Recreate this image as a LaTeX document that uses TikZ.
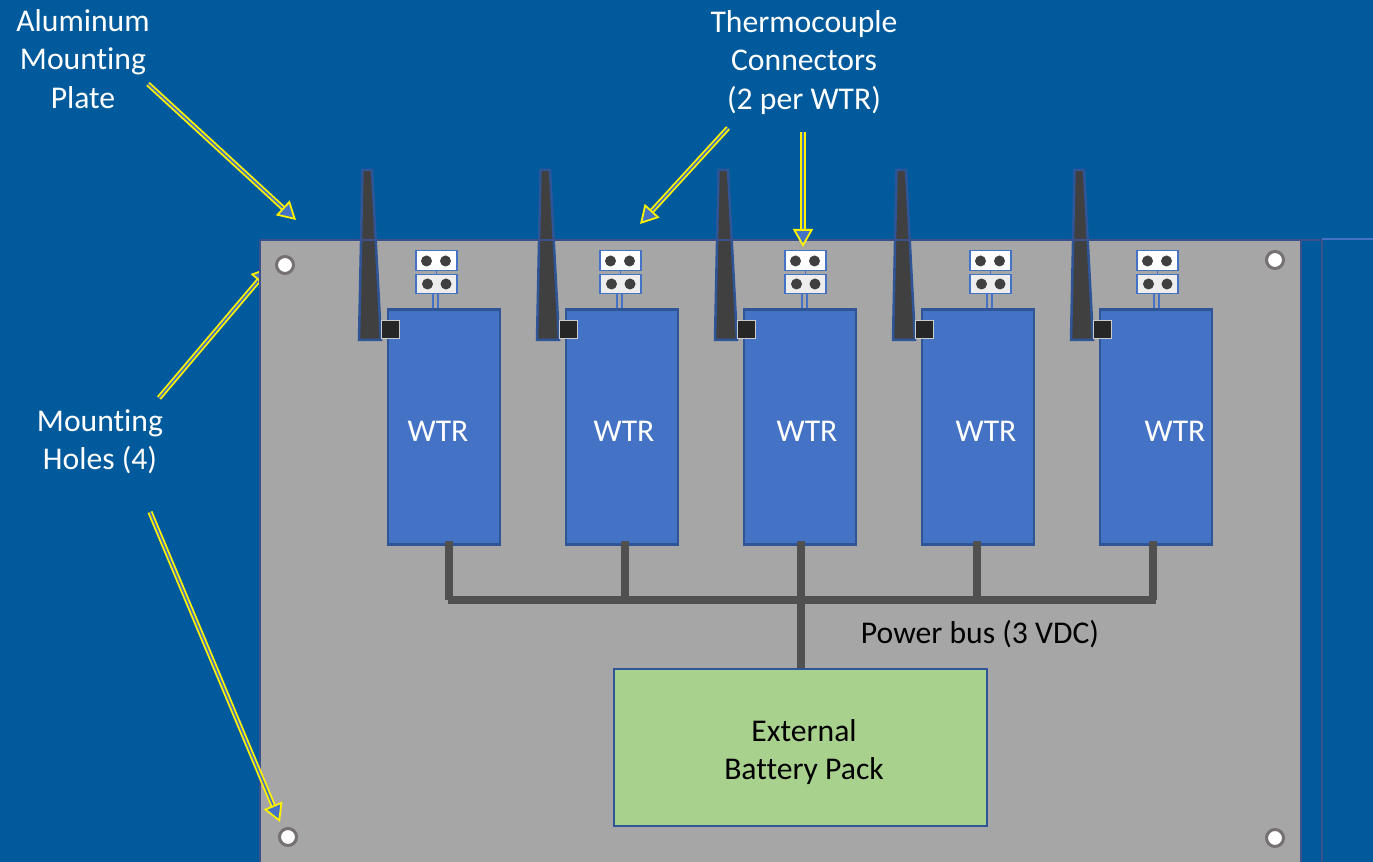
\documentclass[tikz,border=0pt]{standalone}
\usepackage{fontspec}
\setmainfont[Ligatures=NoCommon]{Carlito}
\usetikzlibrary{arrows.meta}
\definecolor{slideblue}{RGB}{0,90,156}
\definecolor{plategray}{RGB}{166,166,166}
\definecolor{edgeblue}{RGB}{47,85,151}
\definecolor{edgeplate}{RGB}{60,80,140}
\definecolor{wtrblue}{RGB}{68,114,196}
\definecolor{packgreen}{RGB}{169,209,142}
\definecolor{busgray}{RGB}{80,80,80}
\definecolor{antgray}{RGB}{64,64,64}
\definecolor{holegray}{RGB}{118,113,113}
\tikzset{
 every node/.style={font=\fontsize{9}{10.85}\selectfont, inner sep=0pt},
 wlabel/.style={text=white, align=center},
 blabel/.style={text=black, align=center},
 wtrbox/.style={rectangle, draw=edgeblue, line width=.025cm, fill=wtrblue, minimum width=1.115cm, minimum height=2.35cm},
 packbox/.style={rectangle, draw=edgeblue, line width=.02cm, fill=packgreen, minimum width=3.72cm, minimum height=1.56cm},
 hole/.style={circle, draw=holegray, line width=.03cm, fill=white, minimum size=.17cm},
 antbody/.style={draw=edgeblue, line width=.025cm, fill=antgray},
 squarenode/.style={rectangle, draw=white!80!black, line width=.01cm, fill=black!85, minimum size=.18cm},
 tctop/.style={rectangle, draw=wtrblue, line width=.012cm, fill=white, minimum width=.41cm, minimum height=.195cm},
 tcbot/.style={rectangle, draw=wtrblue, line width=.012cm, fill=black!7, minimum width=.41cm, minimum height=.195cm},
 tcdot/.style={circle, fill=antgray, minimum size=.11cm},
 tcwire/.style={draw=wtrblue, line width=.012cm},
 busline/.style={draw=busgray, line width=.08cm},
 callout/.style={draw=yellow, double=wtrblue, line width=.018cm, double distance=.016cm,
   -{Triangle[open, fill=wtrblue, length=.18cm, width=.2cm]}},
}
\begin{document}
\begin{tikzpicture}[x=.01cm, y=-.01cm]
\clip (0,0) rectangle (1373,862);
\fill[slideblue] (0,0) rectangle (1373,862);
% callout that runs under the plate
\coordinate (holetail) at (159,398);
\coordinate (holetip) at (270,267);
\draw[callout] (holetail) -- (holetip);
% plate
\filldraw[plategray, draw=edgeplate, line width=.025cm] (260,880) -- (260,240) -- (1301,240) -- (1301,880);
\draw[edgeplate, line width=.025cm] (1322,880) -- (1322,240);
\draw[edgeplate, line width=.015cm] (1301,240) -- (1322,240);
\draw[wtrblue, line width=.012cm] (1322,239) -- (1373,239);
\node[hole] (hole0) at (285,265){};
\node[hole] (hole1) at (1275,260){};
\node[hole] (hole2) at (288,837){};
\node[hole] (hole3) at (1275,838){};
% antennas
\draw[antbody] (362.5,170) -- (372,170) -- (381,340) -- (359,340) -- cycle;
\draw[antbody] (540.5,170) -- (550,170) -- (559,340) -- (537,340) -- cycle;
\draw[antbody] (718.5,170) -- (728,170) -- (737,340) -- (715,340) -- cycle;
\draw[antbody] (896.5,170) -- (906,170) -- (915,340) -- (893,340) -- cycle;
\draw[antbody] (1074.5,170) -- (1084,170) -- (1093,340) -- (1071,340) -- cycle;
\draw[edgeplate, line width=.012cm] (260,240) -- (1301,240);
% radios
\node[wtrbox] (wtr1) at (444,427){};
\node[wtrbox] (wtr2) at (622,427){};
\node[wtrbox] (wtr3) at (800,427){};
\node[wtrbox] (wtr4) at (978,427){};
\node[wtrbox] (wtr5) at (1156,427){};
\node[wlabel] (wtrlab1) at (438,431){WTR};
\node[wlabel] (wtrlab2) at (624,431){WTR};
\node[wlabel] (wtrlab3) at (807,431){WTR};
\node[wlabel] (wtrlab4) at (986,431.5){WTR};
\node[wlabel] (wtrlab5) at (1175,431.5){WTR};
\node[squarenode] (sq1) at (390,330){};
\node[squarenode] (sq2) at (568,330){};
\node[squarenode] (sq3) at (746,330){};
\node[squarenode] (sq4) at (924,330){};
\node[squarenode] (sq5) at (1102,330){};
% thermocouple connectors
\node[tctop] (tca1) at (436.5,260.5){};
\node[tcbot] (tcb1) at (436.5,284){};
\draw[tcwire](tca1) -- (tcb1);
\draw[tcwire]([xshift=-.035cm]tcb1.south) -- ([xshift=-.035cm]tcb1.south |- wtr1.north);
\draw[tcwire]([xshift=.015cm]tcb1.south) -- ([xshift=.015cm]tcb1.south |- wtr1.north);
\node[tcdot] (dot1a) at (426.5,261){};
\node[tcdot] (dot1b) at (445.5,261){};
\node[tcdot] (dot1c) at (427.5,284){};
\node[tcdot] (dot1d) at (446,284){};
\node[tctop] (tca2) at (620.5,260.5){};
\node[tcbot] (tcb2) at (620.5,284){};
\draw[tcwire](tca2) -- (tcb2);
\draw[tcwire]([xshift=-.035cm]tcb2.south) -- ([xshift=-.035cm]tcb2.south |- wtr2.north);
\draw[tcwire]([xshift=.015cm]tcb2.south) -- ([xshift=.015cm]tcb2.south |- wtr2.north);
\node[tcdot] (dot2a) at (610.5,261){};
\node[tcdot] (dot2b) at (629.5,261){};
\node[tcdot] (dot2c) at (611.5,284){};
\node[tcdot] (dot2d) at (630,284){};
\node[tctop] (tca3) at (805.5,260.5){};
\node[tcbot] (tcb3) at (805.5,284){};
\draw[tcwire](tca3) -- (tcb3);
\draw[tcwire]([xshift=-.035cm]tcb3.south) -- ([xshift=-.035cm]tcb3.south |- wtr3.north);
\draw[tcwire]([xshift=.015cm]tcb3.south) -- ([xshift=.015cm]tcb3.south |- wtr3.north);
\node[tcdot] (dot3a) at (795.5,261){};
\node[tcdot] (dot3b) at (814.5,261){};
\node[tcdot] (dot3c) at (796.5,284){};
\node[tcdot] (dot3d) at (815,284){};
\node[tctop] (tca4) at (990.5,260.5){};
\node[tcbot] (tcb4) at (990.5,284){};
\draw[tcwire](tca4) -- (tcb4);
\draw[tcwire]([xshift=-.035cm]tcb4.south) -- ([xshift=-.035cm]tcb4.south |- wtr4.north);
\draw[tcwire]([xshift=.015cm]tcb4.south) -- ([xshift=.015cm]tcb4.south |- wtr4.north);
\node[tcdot] (dot4a) at (980.5,261){};
\node[tcdot] (dot4b) at (999.5,261){};
\node[tcdot] (dot4c) at (981.5,284){};
\node[tcdot] (dot4d) at (1000,284){};
\node[tctop] (tca5) at (1157.5,260.5){};
\node[tcbot] (tcb5) at (1157.5,284){};
\draw[tcwire](tca5) -- (tcb5);
\draw[tcwire]([xshift=-.035cm]tcb5.south) -- ([xshift=-.035cm]tcb5.south |- wtr5.north);
\draw[tcwire]([xshift=.015cm]tcb5.south) -- ([xshift=.015cm]tcb5.south |- wtr5.north);
\node[tcdot] (dot5a) at (1147.5,261){};
\node[tcdot] (dot5b) at (1166.5,261){};
\node[tcdot] (dot5c) at (1148.5,284){};
\node[tcdot] (dot5d) at (1167,284){};
% power bus
\node[packbox] (pack) at (800.5,747.5){};
\node[blabel] (packlab) at (804,752){External\\Battery Pack};
\coordinate (bus1) at (449,600);
\coordinate (bus2) at (624.5,600);
\coordinate (bus3) at (800.5,600);
\coordinate (bus4) at (976.5,600);
\coordinate (bus5) at (1152.5,600);
\draw[busline]([yshift=.05cm]bus1 |- wtr1.south) -- (bus1);
\draw[busline]([yshift=.05cm]bus2 |- wtr2.south) -- (bus2);
\draw[busline]([yshift=.05cm]bus3 |- wtr3.south) -- (pack.north);
\draw[busline]([yshift=.05cm]bus4 |- wtr4.south) -- (bus4);
\draw[busline]([yshift=.05cm]bus5 |- wtr5.south) -- (bus5);
\draw[busline]([xshift=-.01cm]bus1) -- ([xshift=.03cm]bus5);
\node[blabel] (buslab) at (980,634){Power bus (3 VDC)};
% labels and callouts
\node[wlabel] (platelab) at (83,59){Aluminum\\Mounting\\Plate};
\node[wlabel] (tclab) at (804,62.5){Thermocouple\\Connectors\\(2 per WTR)};
\node[wlabel] (holelab) at (100,441.5){Mounting\\Holes (4)};
\coordinate (platetail) at (148,84);
\coordinate (platetip) at (296,220);
\coordinate (tctail1) at (728,128);
\coordinate (tctip1) at (640,224);
\coordinate (tctail2) at (803,132);
\coordinate (tctip2) at (803,247);
\coordinate (holetail2) at (150,512);
\coordinate (holetip2) at (280,822);
\draw[callout](platetail) -- (platetip);
\draw[callout](tctail1) -- (tctip1);
\draw[callout](tctail2) -- (tctip2);
\draw[callout](holetail2) -- (holetip2);
\end{tikzpicture}
\end{document}
